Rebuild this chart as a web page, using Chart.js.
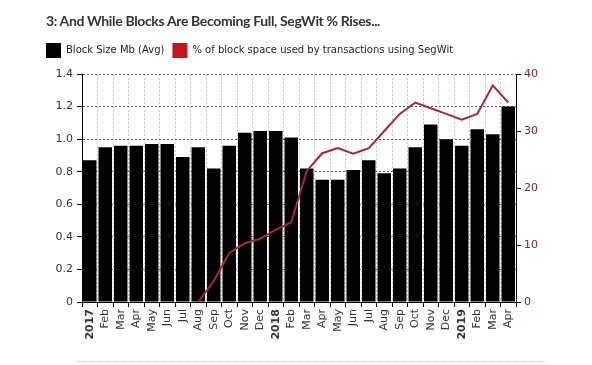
<!DOCTYPE html>
<html>
<head>
<meta charset="utf-8">
<script src="https://cdn.jsdelivr.net/npm/chart.js@4"></script>
<style>
  body { margin: 0; background: #fff; }
  #wrap { position: relative; width: 592px; height: 365px; }
  #title {
    position: absolute; left: 46px; top: 12px;
    font-family: Lato, sans-serif; font-weight: 700; font-size: 14px; color: #333;
    letter-spacing: -0.35px; white-space: nowrap;
  }
  #rule { position: absolute; left: 78px; top: 361px; width: 468px; border-top: 1px dotted #ccc; }
</style>
</head>
<body>
<div id="wrap">
  <div id="title">3: And While Blocks Are Becoming Full, SegWit % Rises...</div>
  <canvas id="chart" width="592" height="365"></canvas>
  <div id="rule"></div>
</div>
<script>
// month labels, years shown in bold
const months = ['2017', 'Feb', 'Mar', 'Apr', 'May', 'Jun', 'Jul', 'Aug', 'Sep', 'Oct', 'Nov', 'Dec',
    '2018', 'Feb', 'Mar', 'Apr', 'May', 'Jun', 'Jul', 'Aug', 'Sep', 'Oct', 'Nov', 'Dec',
    '2019', 'Feb', 'Mar', 'Apr'];

// average block size, MB
const blockSize = [0.87, 0.95, 0.96, 0.96, 0.97, 0.97, 0.89, 0.95, 0.82, 0.96, 1.04, 1.05,
    1.05, 1.01, 0.82, 0.75, 0.75, 0.81, 0.87, 0.79, 0.82, 0.95, 1.09, 1.00,
    0.96, 1.06, 1.03, 1.20];

// % of block space used by SegWit transactions (no data before Aug 2017)
const segwitPct = [null, null, null, null, null, null, null, 0, 3.7, 8.6, 10.3, 11.1,
    12.7, 14.0, 23.0, 26.1, 27.0, 26.0, 27.0, 30.0, 33.0, 35.0, 34.0, 33.0,
    32.0, 33.0, 38.0, 35.0];

const leftTicks = [0, 0.2, 0.4, 0.6, 0.8, 1.0, 1.2, 1.4];
const rightTicks = [0, 10, 20, 30, 40];

const tickFont = { family: 'DejaVu Sans', size: 11 };

// a bit of room between the legend and the plot
const legendGap = {
    id: 'legendGap',
    afterInit(chart) {
        const fit = chart.legend.fit;
        chart.legend.fit = function () {
            fit.call(this);
            this.height += 6;
        };
    }
};

new Chart(document.getElementById('chart').getContext('2d'), {
    type: 'bar',
    data: {
        labels: months,
        datasets: [{
            label: 'Block Size Mb (Avg)',
            data: blockSize,
            backgroundColor: '#000',
            borderWidth: 0,
            barPercentage: 0.87,
            categoryPercentage: 1,
            yAxisID: 'y',
            order: 1
        }, {
            type: 'line',
            label: '% of block space used by transactions using SegWit',
            data: segwitPct,
            borderColor: '#a02a38',
            backgroundColor: '#c4161c',
            borderWidth: 2,
            pointRadius: 0,
            tension: 0,
            yAxisID: 'y1',
            order: 0
        }]
    },
    plugins: [legendGap],
    options: {
        responsive: false,
        animation: false,
        layout: { padding: { left: 38, right: 50, top: 35, bottom: 23 } },
        plugins: {
            title: { display: false },
            tooltip: { enabled: false },
            legend: {
                align: 'start',
                labels: {
                    boxWidth: 15,
                    boxHeight: 15,
                    padding: 8,
                    color: '#222',
                    font: { family: 'DejaVu Sans', size: 10 },
                    sort: (a, b) => a.datasetIndex - b.datasetIndex,
                    generateLabels: chart => Chart.defaults.plugins.legend.labels.generateLabels(chart)
                        .map(item => Object.assign(item, { strokeStyle: item.fillStyle, lineWidth: 0 }))
                }
            }
        },
        scales: {
            x: {
                offset: true,
                grid: { offset: true, color: '#c8c8c8', tickColor: '#000', tickLength: 5, drawOnChartArea: true },
                border: { color: '#000', dash: [2, 2] },
                ticks: {
                    color: '#333',
                    minRotation: 90,
                    maxRotation: 90,
                    autoSkip: false,
                    padding: 2,
                    font: ctx => ({ family: 'DejaVu Sans', size: 11, weight: /^\d{4}$/.test(months[ctx.index]) ? 'bold' : 'normal' })
                },
                afterFit: scale => { scale.height = 40; }
            },
            y: {
                position: 'left',
                min: 0,
                max: 1.4,
                afterBuildTicks: scale => { scale.ticks = leftTicks.map(v => ({ value: v })); },
                grid: { color: '#555', tickColor: '#000', tickLength: 5 },
                border: { color: '#000', dash: [2, 2] },
                ticks: {
                    color: '#333',
                    font: tickFont,
                    padding: 4,
                    callback: v => v === 0 ? '0' : v.toFixed(1)
                },
                afterFit: scale => { scale.width = 44; }
            },
            y1: {
                position: 'right',
                min: 0,
                max: 40,
                afterBuildTicks: scale => { scale.ticks = rightTicks.map(v => ({ value: v })); },
                grid: { drawOnChartArea: false, tickColor: '#000', tickLength: 5 },
                border: { color: '#000' },
                ticks: { color: '#7a2833', font: tickFont, padding: 3 },
                afterFit: scale => { scale.width = 26; }
            }
        }
    }
});
</script>
</body>
</html>
